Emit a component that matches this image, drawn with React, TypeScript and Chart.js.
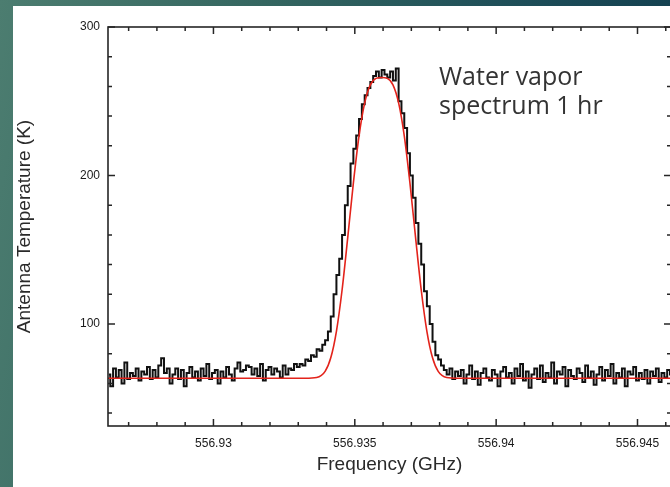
import React, { useEffect, useRef } from "react";
import { Chart, registerables } from "chart.js";

Chart.register(...registerables);

// ---- Data ----
const FREQ_START = 556.9263; // GHz, centre of first channel
const CHANNEL_WIDTH = 0.0001; // GHz

// Measured antenna temperature (K), one value per channel
const TEMPS_LEFT = [
  66, 58, 70, 64, 69, 60, 74, 63, 67, 65,
  70, 62, 68, 66, 71, 63, 69, 64, 72, 77,
  67, 70, 60, 66, 70, 63, 69, 58, 67, 71,
  64, 68, 62, 70, 65, 73, 63, 67, 69, 60,
  68, 64, 71, 66, 62, 70, 74, 68, 69, 72,
  71, 66, 70, 65, 73, 62, 69, 71, 66, 70,
  68, 64, 72, 66, 70, 69, 73,
];
const TEMPS_LINE = [
  71, 73, 72, 76, 75, 79, 78, 83, 82, 86,
  89, 95, 105, 120, 133, 144, 160, 180, 193, 208,
  218, 227, 238, 248, 254, 259, 263, 267, 270, 266,
  271, 268, 266, 270, 264, 272, 250, 242, 232, 215,
  200, 185, 168, 154, 140, 122, 112, 100, 88, 79,
  76, 72, 69, 66, 70, 63, 68, 65,
];
const TEMPS_RIGHT = [
  69, 60, 66, 72, 63, 68, 59, 67, 70, 64,
  62, 69, 66, 58, 68, 71, 64, 67, 60, 70,
  65, 73, 62, 68, 57, 66, 70, 63, 72, 61,
  67, 64, 74, 60, 68, 66, 71, 58, 69, 65,
  63, 70, 67, 61, 72, 64, 68, 59, 66, 71,
  62, 69, 65, 73, 60, 67, 64, 70, 58, 68,
  66, 71, 62, 67, 63, 69, 60, 68, 65, 70,
  61, 67, 64, 69, 66,
];

// Fitted model curve (red), read at these frequencies
const FIT_FREQS = [
  556.9262, 556.9325, 556.93325, 556.93365, 556.93395, 556.93415, 556.93435,
  556.93455, 556.93475, 556.93495, 556.93515, 556.93535, 556.93555, 556.93575,
  556.93595, 556.93615, 556.93635, 556.93655, 556.93675, 556.93695, 556.93715,
  556.93735, 556.93755, 556.93775, 556.93795, 556.93825, 556.93865, 556.947,
];
const FIT_TEMPS = [
  63.5, 63.5, 63.5, 64, 68.1, 77.2, 95.1,
  122.9, 158.2, 195, 226.7, 248.9, 261, 265.4,
  266, 265.4, 261, 248.9, 226.7, 195, 158.2,
  122.9, 95.1, 77.2, 68.1, 64, 63.5, 63.5,
];

// Axes
const X_MIN = 556.92627;
const X_MAX = 556.946185;
const Y_MIN = 31.3;
const Y_MAX = 300;
const X_MAJOR = [556.93, 556.935, 556.94, 556.945];
const X_LABELS = ["556.93", "556.935", "556.94", "556.945"];
const X_MINOR = [
  556.927, 556.928, 556.929, 556.931, 556.932, 556.933, 556.934, 556.936,
  556.937, 556.938, 556.939, 556.941, 556.942, 556.943, 556.944, 556.946,
];
const Y_MAJOR = [100, 200, 300];
const Y_LABELS = ["100", "200", "300"];
const Y_MINOR = [40, 60, 80, 120, 140, 160, 180, 220, 240, 260, 280];

const X_TITLE = "Frequency (GHz)";
const Y_TITLE = "Antenna Temperature (K)";
const NOTE_LINES = ["Water vapor", "spectrum 1 hr"];

const FONT = '"Liberation Sans", Arial, Helvetica, sans-serif';

const framePlugin = {
  id: "frameTicks",
  afterDatasetsDraw(chart: any) {
    const { ctx, chartArea: a, scales } = chart;
    const x = scales.x;
    const y = scales.y;
    ctx.save();
    ctx.strokeStyle = "#262626";
    ctx.lineWidth = 1.6;
    ctx.strokeRect(a.left, a.top, a.right - a.left, a.bottom - a.top);
    ctx.lineWidth = 1.5;
    ctx.beginPath();
    const majorLen = 7;
    const minorLen = 4;
    X_MAJOR.forEach((v) => {
      const p = x.getPixelForValue(v);
      ctx.moveTo(p, a.bottom); ctx.lineTo(p, a.bottom - majorLen);
      ctx.moveTo(p, a.top); ctx.lineTo(p, a.top + majorLen);
    });
    X_MINOR.forEach((v) => {
      const p = x.getPixelForValue(v);
      ctx.moveTo(p, a.bottom); ctx.lineTo(p, a.bottom - minorLen);
      ctx.moveTo(p, a.top); ctx.lineTo(p, a.top + minorLen);
    });
    Y_MAJOR.forEach((v) => {
      const p = y.getPixelForValue(v);
      ctx.moveTo(a.left, p); ctx.lineTo(a.left + majorLen, p);
      ctx.moveTo(a.right, p); ctx.lineTo(a.right - majorLen, p);
    });
    Y_MINOR.forEach((v) => {
      const p = y.getPixelForValue(v);
      ctx.moveTo(a.left, p); ctx.lineTo(a.left + minorLen, p);
      ctx.moveTo(a.right, p); ctx.lineTo(a.right - minorLen, p);
    });
    ctx.stroke();
    ctx.restore();
  },
};

export default function App() {
  const canvasRef = useRef<HTMLCanvasElement | null>(null);

  useEffect(() => {
    const canvas = canvasRef.current;
    if (!canvas) return;
    const temps = [...TEMPS_LEFT, ...TEMPS_LINE, ...TEMPS_RIGHT];
    const spectrum = temps.map((t, i) => ({ x: FREQ_START + i * CHANNEL_WIDTH, y: t }));
    const fit = FIT_FREQS.map((f, i) => ({ x: f, y: FIT_TEMPS[i] }));

    const chart = new Chart(canvas, {
      type: "line",
      data: {
        datasets: [
          {
            label: "fit",
            data: fit,
            borderColor: "#e3231b",
            borderWidth: 1.6,
            pointRadius: 0,
            cubicInterpolationMode: "monotone",
            fill: false,
          },
          {
            label: "spectrum",
            data: spectrum,
            borderColor: "#111111",
            borderWidth: 2,
            pointRadius: 0,
            stepped: "middle",
            fill: false,
          },
        ],
      },
      options: {
        animation: false,
        responsive: false,
        maintainAspectRatio: false,
        events: [],
        layout: { padding: { top: 27, left: 0, right: 5, bottom: 0 } },
        plugins: {
          legend: { display: false },
          tooltip: { enabled: false },
        },
        scales: {
          x: {
            type: "linear",
            min: X_MIN,
            max: X_MAX,
            grid: { display: false, drawTicks: false },
            border: { display: false },
            afterBuildTicks: (s: any) => {
              s.ticks = X_MAJOR.map((v) => ({ value: v }));
            },
            afterFit: (s: any) => {
              s.height = 61;
            },
            ticks: {
              autoSkip: false,
              maxRotation: 0,
              padding: 10,
              color: "#1a1a1a",
              font: { family: FONT, size: 12 },
              callback: (v: any) => {
                const idx = X_MAJOR.findIndex((m) => Math.abs(m - Number(v)) < 1e-7);
                return idx >= 0 ? X_LABELS[idx] : "";
              },
            },
            title: {
              display: true,
              text: X_TITLE,
              color: "#2a2a2a",
              font: { family: FONT, size: 19 },
              padding: { top: 0, bottom: 11 },
            },
          },
          y: {
            type: "linear",
            min: Y_MIN,
            max: Y_MAX,
            grid: { display: false, drawTicks: false },
            border: { display: false },
            afterBuildTicks: (s: any) => {
              s.ticks = Y_MAJOR.map((v) => ({ value: v }));
            },
            afterFit: (s: any) => {
              s.width = 108;
            },
            ticks: {
              autoSkip: false,
              padding: 8,
              color: "#1a1a1a",
              font: { family: FONT, size: 12 },
              callback: (v: any) => {
                const idx = Y_MAJOR.indexOf(Number(v));
                return idx >= 0 ? Y_LABELS[idx] : "";
              },
            },
            title: {
              display: true,
              text: Y_TITLE,
              color: "#2a2a2a",
              font: { family: FONT, size: 19 },
              padding: { top: 13, bottom: 0 },
            },
          },
        },
      },
      plugins: [framePlugin],
    } as any);

    return () => chart.destroy();
  }, []);

  return (
    <div
      style={{
        position: "absolute",
        left: 0,
        top: 0,
        width: 670,
        height: 487,
        overflow: "hidden",
        background: "linear-gradient(100deg, #4c7d70 0%, #346660 35%, #1d4d58 70%, #0f3a4c 100%)",
      }}
    >
      <div
        style={{
          position: "absolute",
          left: 13,
          top: 6,
          right: 0,
          bottom: 0,
          background: "#ffffff",
        }}
      />
      <canvas
        ref={canvasRef}
        width={676}
        height={487}
        style={{ position: "absolute", left: 0, top: 0, width: 676, height: 487 }}
      />
      <div
        style={{
          position: "absolute",
          left: 439,
          top: 61,
          fontFamily: '"Open Sans", "DejaVu Sans", sans-serif',
          fontSize: 25,
          lineHeight: "29px",
          color: "#333333",
          whiteSpace: "nowrap",
        }}
      >
        {NOTE_LINES.map((l) => (
          <div key={l}>{l}</div>
        ))}
      </div>
    </div>
  );
}
